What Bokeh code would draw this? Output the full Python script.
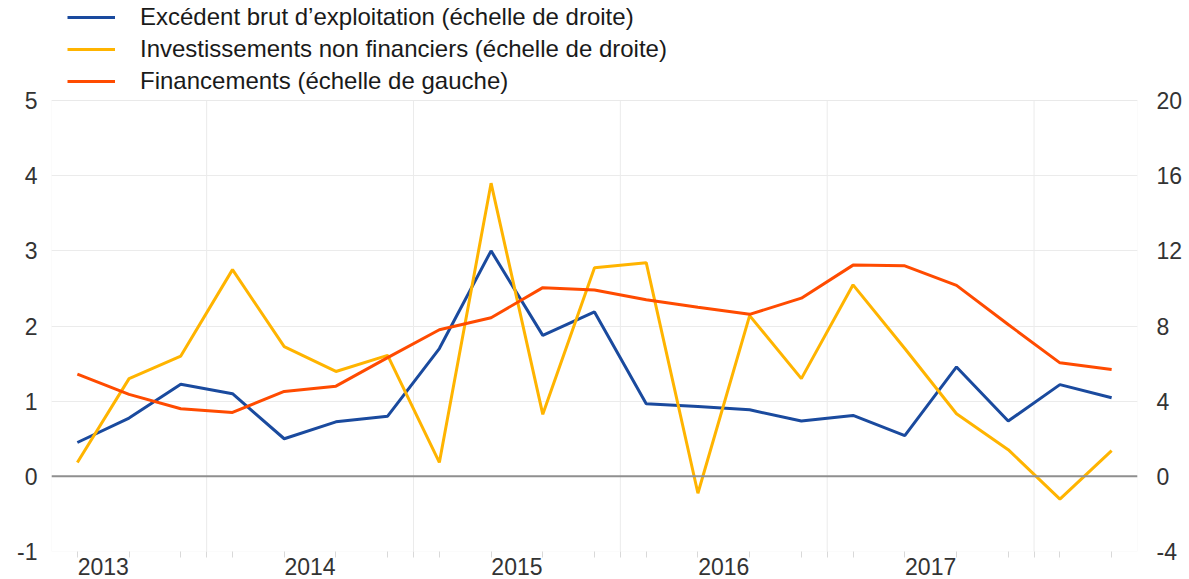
from bokeh.plotting import figure
from bokeh.models import (Range1d, LinearAxis, FixedTicker, Span, Legend, LegendItem,
                          BoxAnnotation)
from bokeh.embed import file_html
from bokeh.resources import INLINE

# Quarterly observations (21 quarters), x = quarter index
quarters = list(range(21))
years = ["2013", "2014", "2015", "2016", "2017"]

# right scale (%)
excedent_brut = [1.8, 3.1, 4.9, 4.4, 2.0, 2.9, 3.2, 6.8, 12.0, 7.5, 8.75,
                 3.86, 3.72, 3.54, 2.94, 3.24, 2.17, 5.82, 2.94, 4.88, 4.18]
investissements = [0.74, 5.2, 6.4, 11.0, 6.9, 5.58, 6.44, 0.74, 15.6, 3.3, 11.1,
                   11.37, -0.9, 8.55, 5.2, 10.19, 6.8, 3.33, 1.42, -1.21, 1.37]
# left scale (%)
financements = [1.36, 1.09, 0.90, 0.85, 1.13, 1.20, 1.58, 1.95, 2.11, 2.51, 2.48,
                2.35, 2.25, 2.155, 2.37, 2.81, 2.80, 2.54, 2.02, 1.51, 1.42]

labels = ["Excédent brut d\u2019exploitation (échelle de droite)",
          "Investissements non financiers (échelle de droite)",
          "Financements (échelle de gauche)"]
colors = ["#1a4a9e", "#FFB400", "#FF4B00"]

left_ticks = [-1, 0, 1, 2, 3, 4, 5]
right_ticks = [-4, 0, 4, 8, 12, 16, 20]

FONT = "Liberation Sans"
TICK_COLOR = "#333333"
W, H = 1189, 579
BOTTOM = 28            # px below the plotting area
PLOT_H = 451           # px height of the plotting area (from -1 to 5)
TOP_PAD = 100          # px reserved above the plotting area for the legend

year_pos = [0.5 + 4 * i for i in range(len(years))]
boundaries = [2.5 + 4 * i for i in range(len(years))]

ymin, ymax = left_ticks[0], left_ticks[-1]
ytop = ymax + (ymax - ymin) * TOP_PAD / PLOT_H
scale = right_ticks[-1] / left_ticks[-1]
xmin, xmax = quarters[0] - 0.5, quarters[-1] + 0.5

p = figure(width=W, height=H, output_backend="svg", toolbar_location=None,
           x_range=Range1d(xmin, xmax), y_range=Range1d(ymin, ytop),
           min_border_left=51, min_border_right=52, min_border_top=0,
           min_border_bottom=BOTTOM)
p.extra_y_ranges = {"right": Range1d(ymin * scale, ytop * scale)}
p.outline_line_color = None
p.background_fill_color = "white"

# horizontal grid
p.ygrid.ticker = FixedTicker(ticks=left_ticks)
p.ygrid.grid_line_color = "#ebebeb"
p.xgrid.visible = False
# vertical year-boundary grid lines, limited to the plotting area
p.segment(x0=boundaries, y0=[ymin] * len(boundaries), x1=boundaries,
          y1=[ymax] * len(boundaries), line_color="#ebebeb", line_width=1,
          level="underlay")
# plotting-area border
p.add_layout(BoxAnnotation(left=xmin, right=xmax, bottom=ymin, top=ymax,
                           fill_alpha=0, line_color="#e3e3e3", line_width=1))

xa = p.xaxis[0]
xa.ticker = FixedTicker(ticks=year_pos, minor_ticks=quarters + boundaries)
xa.major_label_overrides = {pos: y for pos, y in zip(year_pos, years)}
xa.axis_line_color = None
xa.major_tick_line_color = None
xa.major_tick_out = 0
xa.major_tick_in = 0
xa.minor_tick_line_color = "#d9d9d9"
xa.minor_tick_out = 6
xa.minor_tick_in = 0
xa.major_label_standoff = 0
xa.major_label_text_font = FONT
xa.major_label_text_font_size = "23px"
xa.major_label_text_color = TICK_COLOR

ya = p.yaxis[0]
ya.ticker = FixedTicker(ticks=left_ticks)
ya.major_label_overrides = {t: str(t) for t in left_ticks}
ya.axis_line_color = None
ya.major_tick_line_color = None
ya.minor_tick_line_color = None
ya.major_tick_out = 0
ya.major_label_standoff = 14
ya.major_label_text_font = FONT
ya.major_label_text_font_size = "23px"
ya.major_label_text_color = TICK_COLOR

ra = LinearAxis(y_range_name="right", ticker=FixedTicker(ticks=right_ticks))
ra.major_label_overrides = {t: str(t) for t in right_ticks}
ra.axis_line_color = None
ra.major_tick_line_color = None
ra.minor_tick_line_color = None
ra.major_tick_out = 0
ra.major_label_standoff = 19
ra.major_label_text_font = FONT
ra.major_label_text_font_size = "23px"
ra.major_label_text_color = TICK_COLOR
p.add_layout(ra, "right")

p.add_layout(Span(location=0, dimension="width", line_color="#8f8f8f", line_width=2))

r1 = p.line(quarters, excedent_brut, y_range_name="right", line_color=colors[0], line_width=3)
r2 = p.line(quarters, investissements, y_range_name="right", line_color=colors[1], line_width=3)
r3 = p.line(quarters, financements, line_color=colors[2], line_width=3)

legend = Legend(items=[LegendItem(label=lab, renderers=[r]) for lab, r in zip(labels, [r1, r2, r3])],
                location=(16, PLOT_H + TOP_PAD - 95), orientation="vertical",
                padding=0, margin=0, spacing=4,
                glyph_width=48, glyph_height=28, label_height=28,
                label_standoff=25,
                label_text_font=FONT, label_text_font_size="24px",
                label_text_color="#1a1a1a", label_text_baseline="middle",
                background_fill_alpha=0, border_line_color=None)
p.add_layout(legend)

open("out.html", "w").write(file_html(p, INLINE))
